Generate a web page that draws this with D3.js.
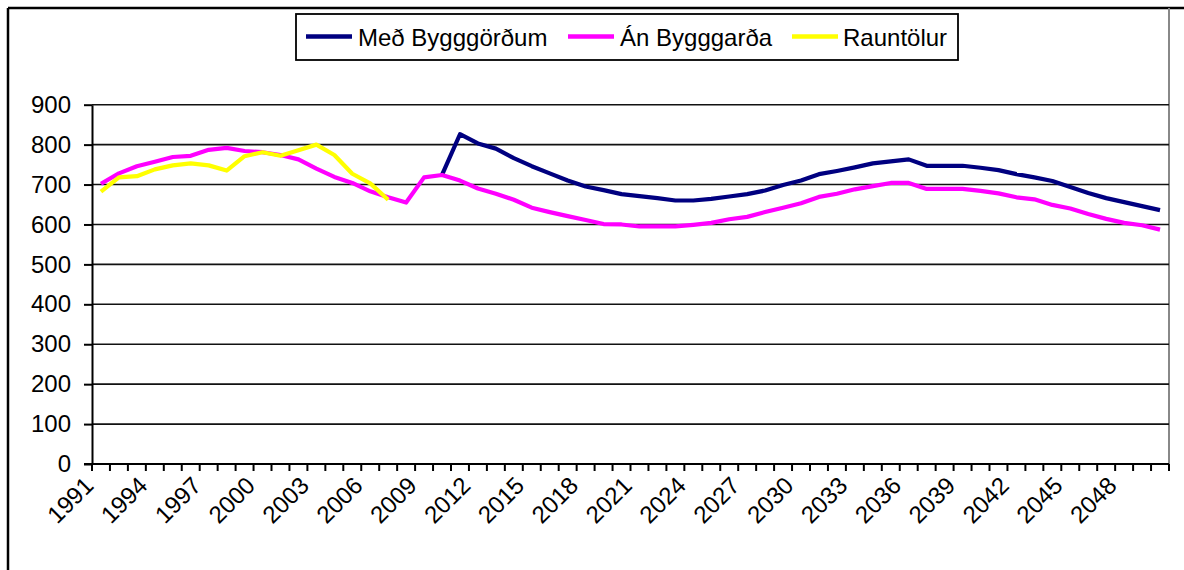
<!DOCTYPE html>
<html>
<head>
<meta charset="utf-8">
<script src="https://cdn.jsdelivr.net/npm/d3@7"></script>
<style>
  html, body { margin: 0; padding: 0; background: #fff; }
  svg { display: block; font-family: "Liberation Sans", Arial, sans-serif; }
</style>
</head>
<body>
<svg id="chart" width="1184" height="570"></svg>
<script>
const years = d3.range(1991, 2051);
const yTicks = [0, 100, 200, 300, 400, 500, 600, 700, 800, 900];
const xLabelYears = d3.range(1991, 2050, 3);

const seriesNames = ["Með Bygggörðum", "Án Bygggarða", "Rauntölur"];
const seriesColors = ["#000080", "#FF00FF", "#FFFF00"];

// Með Bygggörðum: from 2010
const medBygg = [
  null, null, null, null, null, null, null, null, null, null,
  null, null, null, null, null, null, null, null, null,
  724, 826, 803, 790, 766, 746, 728, 710, 695, 686,
  676, 671, 666, 660, 660, 664, 670, 676, 685, 699,
  710, 726, 734, 743, 753, 758, 763, 747, 747, 747,
  742, 736, 726, 718, 709, 694, 679, 666, 656, 646,
  636
];
// Án Bygggarða 1991-2050
const anBygg = [
  702, 728, 746, 757, 769, 772, 787, 792, 784, 781,
  774, 763, 740, 719, 704, 683, 668, 655, 718, 724,
  710, 690, 677, 662, 642, 631, 621, 611, 601, 600,
  595, 595, 595, 599, 604, 613, 619, 631, 642, 653,
  669, 677, 688, 696, 704, 704, 689, 689, 689, 684,
  678, 668, 663, 649, 640, 626, 614, 604, 598, 587
];
// Rauntölur 1991-2007
const raun = [
  682, 718, 721, 738, 748, 753, 748, 735, 771, 781,
  772, 786, 800, 774, 727, 703, 662
];

(function draw() {
const svg = d3.select("#chart");
const pLeft = 92, pRight = 1169, pTop = 104.7, pBottom = 464;

const x = d3.scaleBand().domain(years).range([pLeft, pRight]).paddingInner(0).paddingOuter(0);
const y = d3.scaleLinear().domain([0, 900]).range([pBottom, pTop]);
const cx = yr => x(yr) + x.bandwidth() / 2;

// outer frame
svg.append("line").attr("x1", 8).attr("x2", 1184).attr("y1", 8).attr("y2", 8)
  .attr("stroke", "#000").attr("stroke-width", 2.5);
svg.append("line").attr("x1", 8).attr("x2", 8).attr("y1", 8).attr("y2", 570)
  .attr("stroke", "#000").attr("stroke-width", 2.5);
svg.append("line").attr("x1", pRight).attr("x2", pRight).attr("y1", 8).attr("y2", pBottom)
  .attr("stroke", "#888").attr("stroke-width", 2);

// gridlines
svg.append("g").selectAll("line").data(yTicks.filter(d => d > 0)).join("line")
  .attr("x1", pLeft).attr("x2", pRight)
  .attr("y1", d => y(d)).attr("y2", d => y(d))
  .attr("stroke", "#111").attr("stroke-width", 1.6);

// y axis
const yAxis = svg.append("g").attr("transform", `translate(${pLeft},0)`)
  .call(d3.axisLeft(y).tickValues(yTicks).tickSize(8).tickPadding(13).tickSizeOuter(0));
yAxis.select(".domain").attr("stroke", "#000").attr("stroke-width", 2);
yAxis.selectAll(".tick line").attr("stroke", "#000").attr("stroke-width", 2);
yAxis.selectAll(".tick text").attr("font-size", 24).attr("fill", "#000")
  .attr("font-family", "'Liberation Sans', Arial, sans-serif");

// x axis ticks at category boundaries
const bounds = years.map(yr => x(yr)).concat([pRight]);
svg.append("g").selectAll("line").data(bounds).join("line")
  .attr("x1", d => d).attr("x2", d => d).attr("y1", pBottom).attr("y2", pBottom + 7)
  .attr("stroke", "#000").attr("stroke-width", 2);
svg.append("line").attr("x1", pLeft - 8).attr("x2", pRight).attr("y1", pBottom).attr("y2", pBottom)
  .attr("stroke", "#000").attr("stroke-width", 2);

// x labels
svg.append("g").selectAll("text").data(xLabelYears).join("text")
  .attr("transform", d => `translate(${cx(d) - 6},${pBottom + 23}) rotate(-45)`)
  .attr("text-anchor", "end")
  .attr("font-size", 24).attr("fill", "#000")
  .text(d => d);

// lines
const lineGen = d3.line()
  .defined(d => d.v !== null && d.v !== undefined)
  .x(d => cx(d.year)).y(d => y(d.v));

const allSeries = [medBygg, anBygg, raun];
allSeries.forEach((vals, i) => {
  const data = vals.map((v, j) => ({ year: years[j], v: v }));
  svg.append("path").datum(data)
    .attr("d", lineGen)
    .attr("fill", "none")
    .attr("stroke", seriesColors[i])
    .attr("stroke-width", 4.2)
    .attr("stroke-linejoin", "round");
});

// legend
const lg = svg.append("g");
lg.append("rect").attr("x", 296).attr("y", 14).attr("width", 662).attr("height", 46)
  .attr("fill", "#fff").attr("stroke", "#000").attr("stroke-width", 1.8);
const legendItems = [
  { sx: 306, tx: 358 },
  { sx: 568, tx: 620 },
  { sx: 792, tx: 843 }
];
legendItems.forEach((it, i) => {
  lg.append("line").attr("x1", it.sx).attr("x2", it.sx + 46).attr("y1", 36.5).attr("y2", 36.5)
    .attr("stroke", seriesColors[i]).attr("stroke-width", 4.5);
  lg.append("text").attr("x", it.tx).attr("y", 45.5)
    .attr("font-size", 24).attr("fill", "#000").text(seriesNames[i]);
});
})();
</script>
</body>
</html>
